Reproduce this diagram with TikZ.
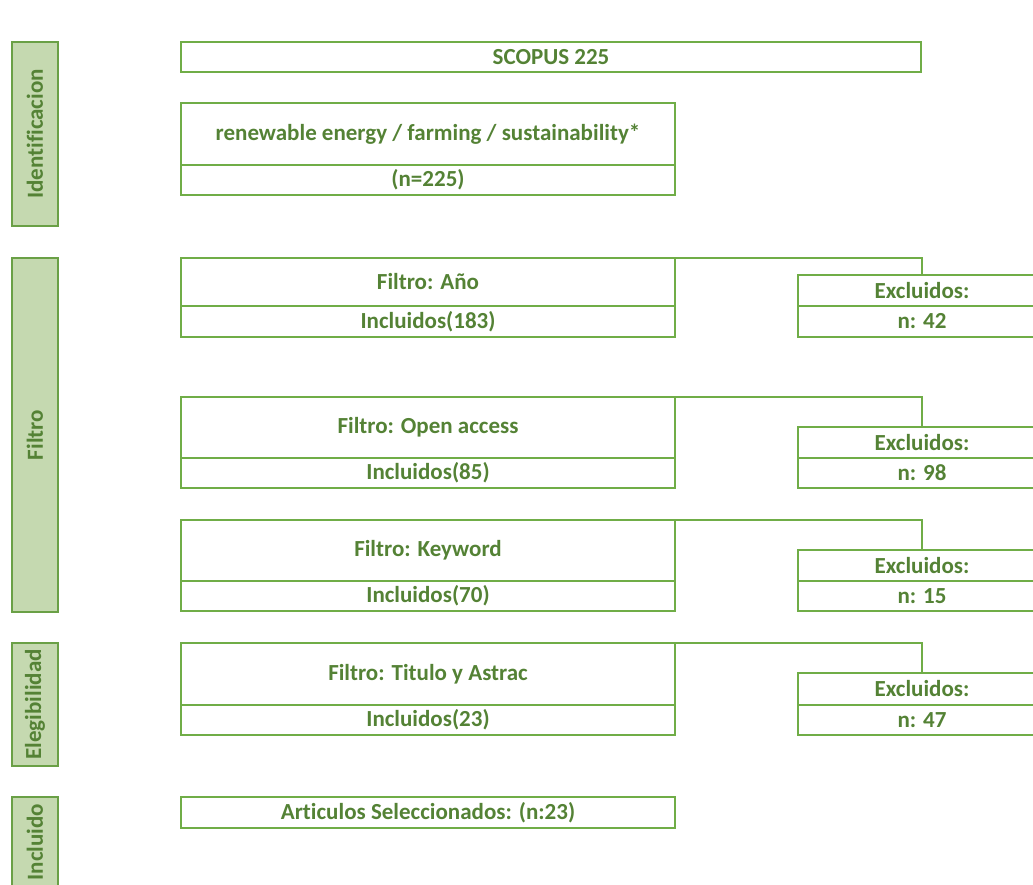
\documentclass[tikz,border=0pt]{standalone}
\usepackage{fontspec}
\setmainfont{Carlito}[Ligatures=CommonOff]
\usetikzlibrary{positioning}
\definecolor{verdetxt}{RGB}{84,130,53}
\definecolor{verdeline}{RGB}{112,173,71}
\definecolor{verdeside}{RGB}{106,160,70}
\definecolor{verdefill}{RGB}{197,217,176}
\tikzstyle{caja} = [rectangle, 
draw=verdeline, 
line width=1.4pt, 
outer sep=0pt, 
inner sep=0pt, 
text=verdetxt, 
text centered, 
font=\fontsize{23}{26}\selectfont\bfseries]
\tikzstyle{ancha} = [caja, minimum width=494pt]
\tikzstyle{excl} = [caja, minimum width=248pt]
\tikzstyle{fase} = [rectangle, 
rotate=90, 
draw=verdeside, 
fill=verdefill, 
line width=2pt, 
minimum height=46pt, 
text=verdetxt, 
font=\fontsize{23}{26}\selectfont\bfseries]
\tikzstyle{linea} = [draw=verdeline, line width=1.4pt]

\begin{document}
\begin{tikzpicture}[x=1pt, y=1pt, node distance=0pt]
\useasboundingbox (0,0) rectangle (1033,885);
\clip (0,0) rectangle (1033,885);

% fases
\node (ident) [fase, minimum width=184pt] at (35,751) {Identificacion};
\node (filtro) [fase, minimum width=354pt] at (35,450) {Filtro};
\node (eleg) [fase, minimum width=123pt] at (35,180.5) {Elegibilidad};
\node (incl) [fase, minimum width=90pt] at (35,43) {Incluido};

% identificacion
\node (scopus) [caja, minimum width=740pt, minimum height=30pt] at (551,828) {SCOPUS 225};
\node (busq) [ancha, minimum height=62pt] at (428,751) {renewable energy / farming / sustainability*};
\node (busqn) [ancha, minimum height=30pt, below=of busq] {(n=225)};

% filtro: año
\node (anio) [ancha, minimum height=48pt] at (428,603) {Filtro: Año};
\node (anioinc) [ancha, minimum height=31pt, below=of anio] {Incluidos(183)};
\node (exnA) [excl, minimum height=31pt, right=123pt of anioinc] {n: 42};
\node (exA) [excl, minimum height=31pt, above=of exnA] {Excluidos:};

% filtro: open access
\node (open) [ancha, minimum height=61pt] at (428,457.5) {Filtro: Open access};
\node (openinc) [ancha, minimum height=30pt, below=of open] {Incluidos(85)};
\node (exnB) [excl, minimum height=30pt, right=123pt of openinc] {n: 98};
\node (exB) [excl, minimum height=31pt, above=of exnB] {Excluidos:};

% filtro: keyword
\node (key) [ancha, minimum height=61pt] at (428,334.5) {Filtro: Keyword};
\node (keyinc) [ancha, minimum height=30pt, below=of key] {Incluidos(70)};
\node (exnC) [excl, minimum height=30pt, right=123pt of keyinc] {n: 15};
\node (exC) [excl, minimum height=31pt, above=of exnC] {Excluidos:};

% elegibilidad
\node (tit) [ancha, minimum height=62pt] at (428,211) {Filtro: Titulo y Astrac};
\node (titinc) [ancha, minimum height=30pt, below=of tit] {Incluidos(23)};
\node (exnD) [excl, minimum height=30pt, right=123pt of titinc] {n: 47};
\node (exD) [excl, minimum height=32pt, above=of exnD] {Excluidos:};

% incluido
\node (art) [ancha, minimum height=31pt] at (428,72.5) {Articulos Seleccionados: (n:23)};

\draw [linea] (anio.north east) -| (exA.north);
\draw [linea] (open.north east) -| (exB.north);
\draw [linea] (key.north east) -| (exC.north);
\draw [linea] (tit.north east) -| (exD.north);

\end{tikzpicture}
\end{document}
